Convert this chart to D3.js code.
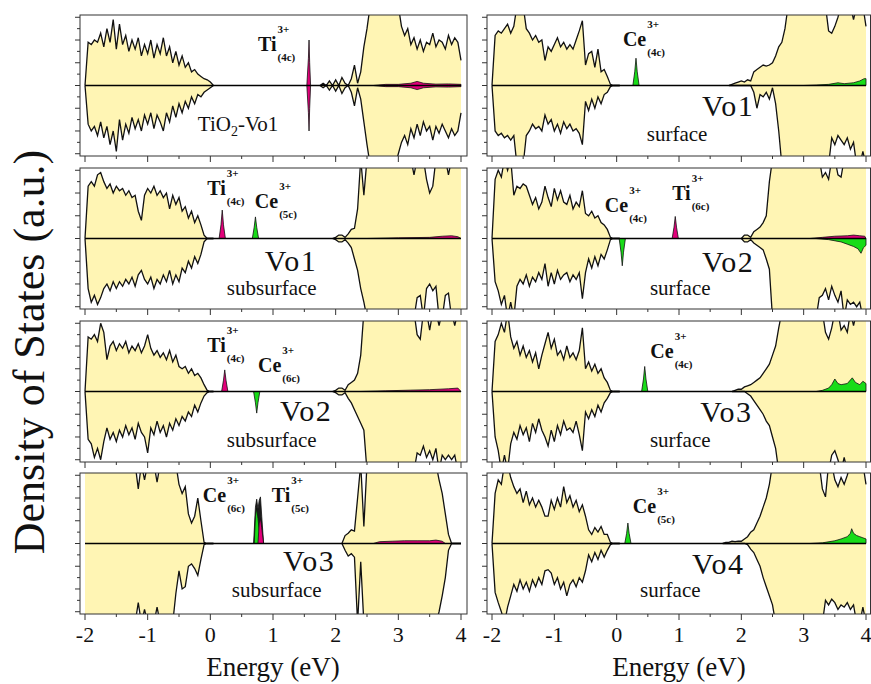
<!DOCTYPE html>
<meta charset="utf-8">
<style>
body { margin: 0; background: white; }
.vb { fill: #fff5b4; }
.edge { fill: none; stroke: #111; stroke-width: 1.3px; }
.zero { stroke: #000; stroke-width: 1.6px; }
.frame { fill: none; stroke: #333; stroke-width: 1px; }
.tick { stroke: #333; stroke-width: 1px; }
</style>
<html>
<head><title>DOS panels</title>
<script src="https://cdn.jsdelivr.net/npm/d3@7"></script>
</head>
<body>
<svg id="chart"></svg>
<script>
'use strict'

const step = 0.05
const vbStart = -2
const energyTicks = [-2, -1, 0, 1, 2, 3, 4]

const p1VbUp = [0,1.9,1.8,2.0,1.9, 2.3,1.7,2.5,1.9,2.9, 1.6,2.7,1.8,2.2,1.5, 2.0,1.6,2.1,1.3,1.8, 1.4,2.0,1.2,1.8,1.4, 2.1,1.3,1.7,1.0,1.5, 0.9,1.3,0.8,1.0,0.6, 0.7,0.5,0.4,0.3,0.25, 0.15,0]
const p1VbDn = [0,1.7,2.0,1.8,2.2, 1.6,2.3,1.8,2.6,2.0, 2.9,1.5,2.4,1.7,2.1, 1.4,1.9,1.5,2.0,1.3, 1.7,1.2,1.9,1.3,1.6, 2.0,1.2,1.6,0.9,1.4, 0.8,1.2,0.7,1.0,0.5, 0.8,0.4,0.5,0.3,0.2, 0.1,0]
const p1CbStart = 1.75
const p1CbUp = [0,0.1,0,0.2,0, 0.25,0,0.35,0.1,0, 0.3,0.9,0.1,0.6,1.7, 2.5,3.5,3.5,3.5,3.5, 3.5,3.5,3.5,3.5,3.5, 3.5,2.6,2.2,2.5,1.8, 2.1,1.6,2.0,1.5,1.9, 1.8,2.3,1.7,2.0,1.9, 1.6,2.2,1.8,2.1,1.9, 1.1]
const p1CbDn = [0,0.1,0,0.2,0, 0.25,0,0.35,0.1,0, 0.3,0.9,0.1,0.6,1.6, 2.6,3.5,3.5,3.5,3.5, 3.5,3.5,3.5,3.5,3.5, 3.0,2.5,2.2,2.6,1.9, 2.3,1.7,2.2,1.6,2.0, 1.8,2.4,1.8,2.1,1.7, 2.0,2.3,1.9,2.2,2.0, 1.2]
const p1TiGap = [[1.54,0],[1.565,1.2],[1.575,2.0],[1.585,1.0],[1.60,0]]
const p1TiGapDn = [[1.54,0],[1.565,-1.2],[1.575,-2.0],[1.585,-1.0],[1.60,0]]
const p1TiCb = [[2.6,0],[2.8,0.05],[3.0,0.05],[3.2,0.1],[3.3,0.18],[3.4,0.1],[3.6,0.06],[3.8,0.07],[4.0,0.05],[4.0,0]]
const p1TiCbDn = [[2.6,0],[2.8,-0.05],[3.0,-0.05],[3.2,-0.1],[3.3,-0.18],[3.4,-0.1],[3.6,-0.06],[3.8,-0.07],[4.0,-0.05],[4.0,0]]

const p2VbUp = [0,2.3,2.5,2.3,2.8, 2.9,2.5,2.2,2.4,2.0, 2.3,2.1,2.2,1.9,2.1, 1.8,1.9,1.2,0.8,1.9, 2.2,2.0,2.3,1.9,2.1, 1.8,2.0,1.3,1.9,1.5, 1.8,1.2,1.4,0.9,1.2, 0.7,1.0,0.6,0.15,0, 0,0]
const p2VbDn = [0,2.2,2.8,2.5,2.9, 2.6,2.2,2.0,2.3,1.9, 2.2,1.9,2.1,1.8,2.0, 1.7,2.1,1.6,1.4,1.8, 2.0,1.7,2.2,1.8,2.0, 1.6,1.9,1.4,2.0,1.6, 1.9,1.3,1.5,1.0,1.3, 0.8,1.1,0.7,0.15,0, 0,0]
const p2CbStart = 1.95
const p2CbUp = [0,0.05,0.15,0.15,0.05, 0.2,0.4,0.45,1.3,3.5, 1.9,3.5,3.5,3.5,3.5, 3.5,3.5,3.5,3.5,3.5, 3.5,3.5,3.5,3.5,3.5, 3.5,2.8,3.5,3.5,3.5, 2.6,2.0,2.3,3.5,3.5, 3.5,3.5,2.8,3.5,3.5, 3.5,3.5]
const p2CbDn = [0,0.05,0.15,0.15,0.05, 0.2,0.4,0.9,1.4,2.2, 2.8,3.5,3.5,3.5,3.5, 3.5,3.5,3.5,3.5,3.5, 3.5,3.5,3.5,3.5,3.5, 3.5,3.5,2.6,2.5,3.5, 2.2,2.0,2.3,2.1,3.5, 3.5,2.5,2.4,3.5,3.5, 3.5,3.5]
const p2TiGap = [[0.14,0],[0.17,0.6],[0.19,1.25],[0.21,0.6],[0.24,0]]
const p2CeGap = [[0.67,0],[0.70,0.5],[0.72,0.95],[0.74,0.5],[0.77,0]]
const p2TiCb = [[2.5,0],[3.0,0.03],[3.5,0.05],[3.7,0.1],[3.85,0.12],[3.95,0.08],[4.0,0]]

const p3VbUp = [0,2.4,2.3,2.5,2.2, 3.0,2.6,1.4,2.0,2.2, 1.8,2.1,1.9,2.2,1.7, 2.0,1.8,2.1,1.7,2.0, 2.5,1.9,1.6,1.8,1.5, 1.7,1.4,1.8,1.3,1.6, 1.1,1.0,1.1,0.8,1.0, 0.7,0.8,0.6,0.3,0.05, 0,0]
const p3VbDn = [0,2.1,2.3,2.9,2.5, 3.0,2.2,1.6,2.1,1.8, 2.2,1.7,2.0,1.5,1.9, 1.6,2.1,1.4,1.8,2.0, 2.7,1.6,1.9,1.3,1.8, 1.5,2.0,1.4,1.7,1.2, 1.5,1.1,1.3,0.9,1.1, 0.6,0.9,0.5,0.2,0.05, 0,0]
const p3CbStart = 1.95
const p3CbUp = [0,0.05,0.15,0.15,0.05, 0.3,0.4,0.5,0.8,1.6, 3.5,3.5,3.5,3.5,3.5, 3.5,3.5,3.5,3.5,3.5, 3.5,3.5,3.5,3.5,3.5, 3.5,3.5,2.5,2.3,3.5, 3.5,2.7,3.5,3.5,2.9, 3.5,3.5,3.5,3.5,2.9, 3.5,3.5]
const p3CbDn = [0,0.05,0.15,0.15,0.05, 0.3,0.5,0.8,1.1,1.4, 1.7,3.5,3.5,3.5,3.5, 3.5,3.5,3.5,3.5,3.5, 3.5,3.5,3.5,3.5,3.5, 3.5,3.5,2.7,2.8,2.4, 2.9,2.6,3.0,2.5,3.5, 2.8,3.0,2.8,3.0,2.8, 3.5,3.5]
const p3TiGap = [[0.18,0],[0.21,0.5],[0.23,0.95],[0.25,0.5],[0.28,0]]
const p3CeGap = [[0.69,0],[0.72,-0.5],[0.74,-0.95],[0.76,-0.5],[0.79,0]]
const p3TiCb = [[2.4,0],[2.8,0.03],[3.2,0.06],[3.5,0.08],[3.8,0.12],[3.95,0.15],[4.0,0]]

const p4VbUp = [3.5,3.5,3.5,3.5,3.5, 3.5,3.5,3.5,3.5,3.5, 3.5,3.5,3.5,3.5,3.5, 3.5,3.5,2.4,3.5,2.8, 3.5,3.5,3.5,2.7,3.5, 3.5,3.5,3.5,3.5,3.5, 2.6,2.2,2.5,1.3,0.9, 1.2,2.0,1.0,0.05,0, 0,0]
const p4VbDn = [3.5,3.5,3.5,3.5,3.5, 3.5,3.5,3.5,3.5,3.5, 3.5,3.5,3.5,3.5,3.5, 3.5,3.5,2.6,3.5,2.9, 3.5,3.5,3.5,2.8,3.5, 3.5,3.5,3.5,3.5,2.2, 1.2,2.0,1.9,1.0,0.9, 1.1,1.4,0.7,0.05,0, 0,0]
const p4CbStart = 2.10
const p4CbUp = [0,0.35,0.45,0.6,0.55, 2.0,3.5,0.75,3.5,3.5, 3.5,3.5,3.5,3.5,3.5, 3.5,3.5,3.5,3.5,3.5, 3.5,3.5,3.5,3.5,3.5, 3.5,3.5,3.5,3.5,3.5, 3.5,2.8,2.2,1.3,0.4, 0,0,0,0]
const p4CbDn = [0,0.3,0.55,0.45,0.6, 3.5,0.8,3.5,3.5,3.5, 3.5,3.5,3.5,3.5,3.5, 3.5,3.5,3.5,3.5,3.5, 3.5,3.5,3.5,3.5,3.5, 3.5,3.5,3.5,3.5,3.5, 3.5,3.0,2.3,1.5,0.3, 0,0,0,0]
const p4TotGap = [[0.69,0],[0.72,1.6],[0.74,1.95],[0.76,1.5],[0.78,1.9],[0.80,2.05],[0.82,1.2],[0.85,0]]
const p4CeGap = [[0.70,0],[0.72,1.2],[0.74,1.55],[0.76,1.1],[0.78,0.6],[0.80,0.3],[0.82,0]]
const p4TiGap = [[0.76,0],[0.78,0.9],[0.80,1.1],[0.82,0.7],[0.85,0]]
const p4TiCb = [[2.6,0],[2.7,0.08],[2.9,0.1],[3.1,0.12],[3.3,0.12],[3.5,0.12],[3.6,0.15],[3.7,0.1],[3.75,0]]

const p5VbUp = [0,2.2,2.4,2.3,2.5, 2.7,2.3,2.6,3.5,3.5, 3.5,2.5,2.3,2.0,2.2, 1.9,2.0,1.1,1.7,1.5, 1.8,2.1,1.7,1.9,1.6, 1.8,1.6,2.0,2.4,2.85, 0.9,1.4,1.5,0.8,1.6, 0.6,0.7,0.4,0.05,0, 0,0]
const p5VbDn = [0,2.0,2.2,2.1,2.3, 2.2,2.4,2.2,3.5,3.5, 3.5,2.2,2.0,1.7,1.9, 1.8,2.0,1.3,1.7,1.5, 2.0,1.7,2.1,1.6,1.9, 1.7,2.0,1.9,2.1,2.6, 0.7,1.1,0.6,1.0,0.5, 0.8,0.4,0.3,0.05,0, 0,0]
const p5CbStart = 1.80
const p5CbUp = [0,0.05,0.1,0.15,0.2, 0.15,0.25,0.2,0.6,0.7, 0.8,0.9,0.85,0.9,1.0, 1.3,1.7,1.9,2.5,3.5, 3.5,3.5,3.5,3.5,3.5, 3.5,3.5,3.5,3.5,3.5, 3.5,3.5,2.4,2.3,2.6, 3.0,3.5,3.5,3.5,3.5, 2.9,3.5,3.5,3.5,2.6]
const p5CbDn = [0,0,0,0,0, 0,0,0,0.3,1.0, 0.4,0.5,0.3,0.6,0.1, 0.8,2.0,3.5,3.5,3.5, 3.5,3.5,3.5,3.5,3.5, 3.5,3.5,3.5,3.5,3.5, 3.5,3.5,3.5,2.3,2.6, 2.2,2.4,2.6,2.3,2.8, 2.5,3.5,3.5,2.9,3.5]
const p5CeGap = [[0.26,0],[0.29,0.6],[0.31,1.2],[0.33,0.6],[0.36,0]]
const p5CeCb = [[3.0,0],[3.2,0.02],[3.4,0.05],[3.55,0.12],[3.65,0.08],[3.8,0.12],[3.9,0.2],[3.97,0.3],[4.0,0.3],[4.0,0]]

const p6VbUp = [0,2.6,3.0,2.7,3.5, 3.0,3.5,1.9,2.3,2.2, 2.4,2.3,1.9,1.5,1.8, 1.3,1.6,2.3,1.8,1.4, 2.2,1.7,2.1,1.6,1.5, 1.9,1.3,1.6,1.4,2.1, 1.1,1.0,1.2,0.9,1.0, 0.7,0.6,0.4,0.05,0, 0,0]
const p6VbDn = [0,1.9,2.3,2.9,2.5, 3.5,2.8,3.5,2.1,1.8, 2.0,1.6,2.1,1.7,1.9, 1.5,1.8,1.1,2.1,1.5, 2.0,1.4,1.8,1.6,1.5, 1.9,1.6,1.8,1.5,2.65, 1.5,0.9,1.3,0.8,1.2, 0.7,0.9,0.5,0.05,0, 0,0]
const p6CbStart = 2.00
const p6CbUp = [0,0.15,0.15,0.05,0.3, 0.4,0.5,0.7,1.0,2.5, 3.5,3.5,3.5,3.5,3.5, 3.5,3.5,3.5,3.5,3.5, 3.5,3.5,3.5,3.5,3.5, 3.5,2.7,2.9,2.6,3.5, 3.5,2.8,2.7,3.5,3.5, 3.5,3.5,3.5,3.5,3.5, 3.5]
const p6CbDn = [0,0.15,0.15,0.05,0.2, 0.3,0.4,0.5,0.9,1.35, 3.5,3.5,3.5,3.5,3.5, 3.5,3.5,3.5,3.5,3.5, 3.5,3.5,3.5,3.5,3.5, 2.6,2.5,2.2,2.7,2.1, 2.5,2.8,2.3,3.5,2.7, 2.9,2.8,3.0,2.8,3.5, 3.5]
const p6CeGap = [[0.04,0],[0.07,-0.6],[0.09,-1.2],[0.11,-0.6],[0.14,0]]
const p6TiGap = [[0.89,0],[0.92,0.5],[0.94,0.97],[0.96,0.5],[0.99,0]]
const p6TiCb = [[3.1,0],[3.3,0.05],[3.5,0.1],[3.7,0.12],[3.8,0.15],[3.9,0.12],[3.98,0.1],[4.0,0]]
const p6CeCb = [[3.2,0],[3.4,-0.05],[3.6,-0.15],[3.7,-0.25],[3.8,-0.35],[3.87,-0.45],[3.92,-0.65],[3.96,-0.4],[4.0,-0.3],[4.0,0]]

const p7VbUp = [0,2.2,2.5,3.0,2.6, 3.5,2.4,1.9,2.2,1.6, 2.0,1.5,1.8,1.3,1.7, 1.0,1.6,2.1,2.6,1.9, 2.3,1.6,1.8,1.4,2.0, 1.5,1.7,1.4,1.8,2.8, 1.0,1.3,0.9,1.2,0.8, 1.0,0.6,0.4,0.05,0, 0,0]
const p7VbDn = [0,2.0,2.6,3.5,2.8, 3.5,2.3,1.8,2.1,1.5, 1.9,1.6,2.2,1.4,1.8, 1.2,1.7,2.0,2.4,1.7, 2.2,1.5,1.9,1.3,1.7, 1.6,1.8,1.3,1.9,2.6, 0.9,1.2,0.8,1.1,0.6, 0.9,0.5,0.3,0.05,0, 0,0]
const p7CbStart = 1.85
const p7CbUp = [0,0.05,0.1,0.1,0.2, 0.25,0.3,0.4,0.5,0.6, 0.8,1.0,1.2,1.6,2.0, 2.8,3.5,3.5,3.5,3.5, 3.5,3.5,3.5,3.5,3.5, 3.5,3.5,3.5,3.5,3.5, 2.6,2.3,2.8,3.5,3.5, 2.7,2.9,2.6,3.5,2.9, 3.5,3.5,3.5,3.5]
const p7CbDn = [0,0,0,0,0, 0.1,0.2,0.4,0.6,0.8, 1.0,1.3,1.5,2.0,2.5, 3.5,3.5,3.5,3.5,3.5, 3.5,3.5,3.5,3.5,3.5, 3.5,3.5,3.5,3.5,3.5, 3.5,3.5,2.8,2.6,3.0, 3.5,2.9,3.5,3.5,3.5, 3.5,3.5,3.5,3.5]
const p7CeGap = [[0.40,0],[0.43,0.55],[0.45,1.1],[0.47,0.55],[0.50,0]]
const p7CeCb = [[3.2,0],[3.3,0.05],[3.4,0.15],[3.45,0.3],[3.5,0.55],[3.55,0.35],[3.6,0.3],[3.7,0.35],[3.78,0.6],[3.83,0.4],[3.9,0.3],[3.95,0.45],[4.0,0.35],[4.0,0]]

const p8VbUp = [0,2.2,2.8,2.6,3.5, 3.5,2.9,2.5,2.2,2.4, 1.8,2.3,1.7,2.0,1.6, 1.9,1.6,1.2,1.2,1.9, 1.5,2.0,1.6,2.5,1.8, 2.1,1.6,1.9,1.4,1.7, 1.2,0.6,0.4,0.7,0.5, 0.75,0.4,0.4,0.05,0, 0,0]
const p8VbDn = [0,2.15,2.6,3.0,3.5, 2.8,2.3,1.8,2.1,1.6, 2.0,1.7,2.1,1.6,1.9, 1.5,1.8,1.2,1.15,1.3, 1.8,1.5,2.0,1.7,2.3, 1.8,1.6,1.9,1.5,1.7, 1.2,0.5,0.8,0.4,0.7, 0.3,0.6,0.3,0.05,0, 0,0]
const p8CbStart = 1.70
const p8CbUp = [0,0.05,0.05,0.1,0.08, 0.1,0.1,0.2,0.3,0.5, 0.6,0.9,1.2,1.6,2.0, 2.6,3.5,3.5,3.5,3.5, 3.5,3.5,3.5,3.5,3.5, 3.5,3.5,3.5,3.5,3.5, 3.5,3.5,2.4,2.05,3.5, 3.5,2.8,2.5,2.9,2.6, 3.0,3.5,3.5,3.5,3.5, 3.5,2.6]
const p8CbDn = [0,0,0,0,0, 0,0,0,0.05,0.25, 0.4,0.7,1.0,1.5,1.9, 2.3,2.7,3.5,3.5,3.5, 3.5,3.5,3.5,3.5,3.5, 3.5,3.5,3.5,3.5,3.5, 3.5,3.5,3.5,2.5,2.7, 2.45,2.6,2.9,2.7,2.8, 2.6,2.9,2.7,3.5,3.5, 2.8,3.5]
const p8CeGap = [[0.13,0],[0.16,0.45],[0.18,0.9],[0.20,0.45],[0.23,0]]
const p8CeCb = [[3.1,0],[3.3,0.03],[3.5,0.12],[3.6,0.2],[3.7,0.3],[3.75,0.45],[3.77,0.65],[3.8,0.45],[3.85,0.35],[3.9,0.3],[3.95,0.25],[4.0,0.2],[4.0,0]]

// [ion, site, energy, dos] for each label
const p1Ions = [['Ti','4c',0.76,1.5]]
const p2Ions = [['Ti','4c',-0.05,1.9],['Ce','5c',0.71,1.35]]
const p3Ions = [['Ti','4c',-0.05,1.75],['Ce','6c',0.76,0.87]]
const p4Ions = [['Ce','6c',-0.12,1.83],['Ti','5c',0.98,1.83]]
const p5Ions = [['Ce','4c',0.10,1.74]]
const p6Ions = [['Ce','4c',-0.19,1.17],['Ti','6c',0.89,1.7]]
const p7Ions = [['Ce','4c',0.54,1.48]]
const p8Ions = [['Ce','5c',0.26,1.35]]
const vacancyNames = ['', 'Vo1', 'Vo2', 'Vo3', 'Vo1', 'Vo2', 'Vo3', 'Vo4']
const siteNames = ['', 'subsurface', 'subsurface', 'subsurface', 'surface', 'surface', 'surface', 'surface']

const colors = { ti: '#e2007a', ce: '#18dc18', tot: '#1c1c1c' }
const serif = "'Liberation Serif', 'DejaVu Serif', 'Noto Serif', serif"

const width = 871, height = 684
const colRanges = [[85, 461], [492, 866]]
const colFrames = [[80, 467], [487, 870.5]]
const rowTops = [15, 168, 321, 473]
const panelH = 141
const yMax = 3.1

const svg = d3.select('#chart').attr('width', width).attr('height', height)

const panels = [
  {col:0,row:0, vbUp:p1VbUp, vbDn:p1VbDn, cbStart:p1CbStart, cbUp:p1CbUp, cbDn:p1CbDn,
   pdos:[['ti',p1TiGap],['ti',p1TiGapDn],['ti',p1TiCb],['ti',p1TiCbDn]], ions:p1Ions},
  {col:0,row:1, vbUp:p2VbUp, vbDn:p2VbDn, cbStart:p2CbStart, cbUp:p2CbUp, cbDn:p2CbDn,
   pdos:[['ti',p2TiGap],['ce',p2CeGap],['ti',p2TiCb]], ions:p2Ions, vo:[0.87,-1.43], site:[0.98,-2.5]},
  {col:0,row:2, vbUp:p3VbUp, vbDn:p3VbDn, cbStart:p3CbStart, cbUp:p3CbUp, cbDn:p3CbDn,
   pdos:[['ti',p3TiGap],['ce',p3CeGap],['ti',p3TiCb]], ions:p3Ions, vo:[1.11,-1.3], site:[0.98,-2.43]},
  {col:0,row:3, vbUp:p4VbUp, vbDn:p4VbDn, cbStart:p4CbStart, cbUp:p4CbUp, cbDn:p4CbDn,
   pdos:[['tot',p4TotGap],['ce',p4CeGap],['ti',p4TiGap],['ti',p4TiCb]], ions:p4Ions, vo:[1.16,-1.2], site:[1.06,-2.35]},
  {col:1,row:0, vbUp:p5VbUp, vbDn:p5VbDn, cbStart:p5CbStart, cbUp:p5CbUp, cbDn:p5CbDn,
   pdos:[['ce',p5CeGap],['ce',p5CeCb]], ions:p5Ions, vo:[1.37,-1.35], site:[0.97,-2.45]},
  {col:1,row:1, vbUp:p6VbUp, vbDn:p6VbDn, cbStart:p6CbStart, cbUp:p6CbUp, cbDn:p6CbDn,
   pdos:[['ce',p6CeGap],['ti',p6TiGap],['ce',p6CeCb],['ti',p6TiCb]], ions:p6Ions, vo:[1.37,-1.48], site:[1.02,-2.5]},
  {col:1,row:2, vbUp:p7VbUp, vbDn:p7VbDn, cbStart:p7CbStart, cbUp:p7CbUp, cbDn:p7CbDn,
   pdos:[['ce',p7CeGap],['ce',p7CeCb]], ions:p7Ions, vo:[1.34,-1.35], site:[1.02,-2.43]},
  {col:1,row:3, vbUp:p8VbUp, vbDn:p8VbDn, cbStart:p8CbStart, cbUp:p8CbUp, cbDn:p8CbDn,
   pdos:[['ce',p8CeGap],['ce',p8CeCb]], ions:p8Ions, vo:[1.21,-1.35], site:[0.86,-2.35]}
]

const toPoints = (arr, start) => arr.map((v, i) => [start + i * step, v])

const addText = (sel, x, y, size) => sel.append('text').attr('x', x).attr('y', y)
  .attr('font-size', size).attr('font-family', serif).attr('fill', '#111')

panels.forEach((p, k) => {
  const x = d3.scaleLinear().domain([-2, 4]).range(colRanges[p.col])
  const top = rowTops[p.row]
  const y = d3.scaleLinear().domain([-yMax, yMax]).range([top + panelH, top])
  const [fx0, fx1] = colFrames[p.col]

  const g = svg.append('g')
  const clipId = 'clip' + k
  g.append('clipPath').attr('id', clipId)
    .append('rect').attr('x', fx0).attr('y', top).attr('width', fx1 - fx0).attr('height', panelH)
  const plot = g.append('g').attr('clip-path', 'url(#' + clipId + ')')

  const upArea = d3.area().x(d => x(d[0])).y0(y(0)).y1(d => y(d[1]))
  const dnArea = d3.area().x(d => x(d[0])).y0(y(0)).y1(d => y(-d[1]))
  const upLine = d3.line().x(d => x(d[0])).y(d => y(d[1]))
  const dnLine = d3.line().x(d => x(d[0])).y(d => y(-d[1]))

  const series = [
    toPoints(p.vbUp, vbStart), toPoints(p.vbDn, vbStart),
    toPoints(p.cbUp, p.cbStart), toPoints(p.cbDn, p.cbStart)
  ]
  series.forEach((s, i) => {
    plot.append('path').attr('class', 'vb').attr('d', (i % 2 ? dnArea : upArea)(s))
  })
  series.forEach((s, i) => {
    plot.append('path').attr('class', 'edge').attr('d', (i % 2 ? dnLine : upLine)(s))
  })

  // gap states and small projected contributions
  const pArea = d3.area().x(d => x(d[0])).y0(y(0)).y1(d => y(d[1]))
  p.pdos.forEach(([kind, pts]) => {
    plot.append('path').attr('d', pArea(pts))
      .attr('fill', colors[kind]).attr('stroke', '#111').attr('stroke-width', 0.8)
  })

  plot.append('line').attr('class', 'zero')
    .attr('x1', x(-2)).attr('x2', x(4)).attr('y1', y(0)).attr('y2', y(0))

  g.append('rect').attr('class', 'frame')
    .attr('x', fx0).attr('y', top).attr('width', fx1 - fx0).attr('height', panelH)

  const yTicks = d3.range(-6, 7).map(v => v / 2)
  g.selectAll('.yt').data(yTicks).enter().append('line').attr('class', 'tick')
    .attr('x1', fx0).attr('x2', d => fx0 - (Number.isInteger(d) ? 5 : 3))
    .attr('y1', d => y(d)).attr('y2', d => y(d))

  const xTicks = d3.range(-4, 9).map(v => v / 2)
  g.selectAll('.xt').data(xTicks).enter().append('line').attr('class', 'tick')
    .attr('x1', d => x(d)).attr('x2', d => x(d))
    .attr('y1', top + panelH).attr('y2', d => top + panelH + (Number.isInteger(d) ? 6 : 3))

  if (p.row === 3) {
    energyTicks.forEach(d => addText(g, x(d), 642, 22).attr('text-anchor', 'middle').text(d))
    addText(g, (colRanges[p.col][0] + colRanges[p.col][1]) / 2, 676, 27)
      .attr('text-anchor', 'middle').text('Energy (eV)')
  }

  p.ions.forEach(([ion, site, e, v]) => {
    const tx = x(e), ty = y(v)
    const t = addText(g, tx, ty, 20).attr('font-weight', 'bold').text(ion)
    const w = t.node().getComputedTextLength()
    addText(g, tx + w + 1, ty - 18, 11).attr('font-weight', 'bold').text('3+')
    addText(g, tx + w + 1, ty + 10, 11).attr('font-weight', 'bold').text('(' + site + ')')
  })

  if (p.vo) {
    addText(g, x(p.vo[0]), y(p.vo[1]), 30).attr('letter-spacing', 1.5).text(vacancyNames[k])
    addText(g, x(p.site[0]), y(p.site[1]), 21).attr('text-anchor', 'middle').text(siteNames[k])
  } else {
    const t = addText(g, x(-0.2), y(-2.0), 21)
    t.append('tspan').text('TiO')
    t.append('tspan').attr('font-size', 14).attr('dy', 5).text('2')
    t.append('tspan').attr('dy', -5).text('-Vo1')
  }
})

addText(svg, 0, 0, 44)
  .attr('transform', 'translate(44,352) rotate(-90)')
  .attr('text-anchor', 'middle')
  .text('Density of States (a.u.)')
</script>
</body>
</html>
